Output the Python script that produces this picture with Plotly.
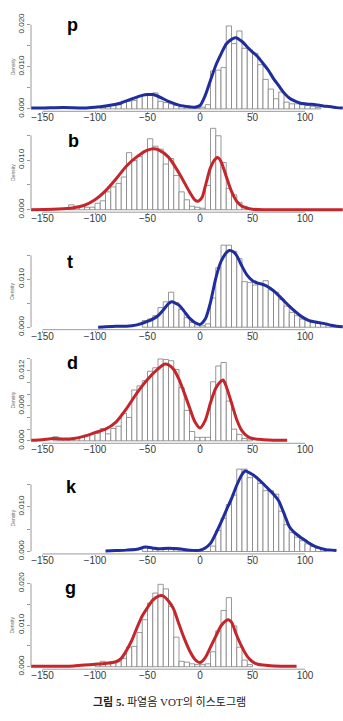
import plotly.graph_objects as go

W, H = 343, 721
BIN = 5
X_TICKS = [-150, -100, -50, 0, 50, 100]

# ---------------- data ----------------
# histograms: left edge of the first bin + densities of consecutive 5-unit bins
p_hist_start = -95
p_hist = [0.0003, 0.0005, 0.0008, 0.0012, 0.0018, 0.0018, 0.002, 0.003, 0.0033, 0.0035,
          0.0038, 0.0018, 0.0015, 0.0012, 0.0008, 0.0005, 0.0003, 0.0002, 0.0002, 0.0004,
          0.001, 0.009, 0.0092, 0.0098, 0.0197, 0.0155, 0.0185, 0.0144, 0.014, 0.0132,
          0.0105, 0.007, 0.0047, 0.0024, 0.004, 0.0016, 0.0012, 0.0012, 0.001, 0.0008,
          0.0006, 0.0003]
p_curve_x = [-161, -150, -130, -110, -100, -90, -80, -75, -70, -60, -55, -50, -45, -40, -35, -30,
             -20, -10, -5, 0, 5, 10, 15, 20, 25, 30, 34, 40, 45, 50, 55, 60, 65, 70, 75, 80, 85,
             90, 95, 100, 105, 110, 115, 120, 125, 130, 136]
p_curve_y = [0.0002, 0.0002, 0.0003, 0.0002, 0.0004, 0.0007, 0.0011, 0.0014, 0.0019, 0.0028,
             0.0032, 0.0034, 0.0034, 0.003, 0.0024, 0.0018, 0.0009, 0.0005, 0.0004, 0.0008,
             0.0032, 0.0068, 0.0103, 0.013, 0.0154, 0.0165, 0.0169, 0.016, 0.0147, 0.0135,
             0.0124, 0.0108, 0.0092, 0.0072, 0.0055, 0.0038, 0.0026, 0.0019, 0.0014, 0.0012,
             0.0011, 0.001, 0.0008, 0.0006, 0.0005, 0.0003, 0.0002]

b_hist_start = -125
b_hist = [0.001, 0.0007, 0.0007, 0.0005, 0.0005, 0.0013, 0.0018, 0.0036, 0.0046, 0.0053,
          0.0066, 0.0115, 0.0099, 0.0107, 0.0118, 0.0143, 0.0128, 0.0122, 0.0092, 0.0103,
          0.0069, 0.0036, 0.002, 0.0007, 0.0005, 0.0003, 0.0049, 0.0164, 0.0149, 0.0095,
          0.0043, 0.003, 0.0015, 0.0007]
b_curve_x = [-161, -140, -130, -120, -110, -100, -90, -80, -70, -60, -50, -44, -40, -30, -20,
             -10, -5, -2, 2, 5, 10, 15, 17, 20, 25, 30, 35, 40, 45, 50, 60, 80, 100, 120, 136]
b_curve_y = [0.0, 0.0001, 0.0002, 0.0004, 0.0009, 0.002, 0.0038, 0.0062, 0.0088, 0.0107,
             0.012, 0.0123, 0.0121, 0.0106, 0.0074, 0.0036, 0.002, 0.0017, 0.0025, 0.0047,
             0.0085, 0.0103, 0.0105, 0.0097, 0.0067, 0.0037, 0.0017, 0.0007, 0.0003, 0.0001,
             0.0, 0.0, 0.0, 0.0, 0.0]

t_hist_start = -55
t_hist = [0.0014, 0.0017, 0.0024, 0.0041, 0.0053, 0.0073, 0.0051, 0.0037, 0.002, 0.001,
          0.0005, 0.0003, 0.0007, 0.0061, 0.0124, 0.0171, 0.0171, 0.0158, 0.0143, 0.0095,
          0.0093, 0.0088, 0.009, 0.0097, 0.0078, 0.0073, 0.0058, 0.0044, 0.0031, 0.0024,
          0.0017, 0.0014, 0.001, 0.0008, 0.0007, 0.0005, 0.0003]
t_curve_x = [-97, -90, -80, -70, -60, -50, -40, -35, -30, -27, -20, -15, -10, -5, 0, 5, 10, 15,
             20, 25, 28, 32, 35, 40, 45, 50, 55, 60, 65, 70, 75, 80, 85, 90, 95, 100, 105, 110,
             115, 120, 125, 130, 136]
t_curve_y = [0.0, 0.0001, 0.0002, 0.0002, 0.0005, 0.0012, 0.0024, 0.0036, 0.0049, 0.0053,
             0.0046, 0.0033, 0.0019, 0.001, 0.0006, 0.0017, 0.0052, 0.0102, 0.0137, 0.0155,
             0.016, 0.0157, 0.0149, 0.0127, 0.0108, 0.0097, 0.0092, 0.0089, 0.0084, 0.0076,
             0.0066, 0.0055, 0.0044, 0.0034, 0.0025, 0.0018, 0.0013, 0.0011, 0.0009, 0.0007,
             0.0004, 0.0002, 0.0001]

d_hist_start = -140
d_hist = [0.0007, 0.0002, 0.0002, 0.0003, 0.0004, 0.0007, 0.001, 0.0012, 0.0013, 0.0021,
          0.0012, 0.0021, 0.0025, 0.0047, 0.004, 0.0087, 0.0094, 0.0103, 0.0119, 0.0125,
          0.014, 0.0139, 0.0137, 0.0122, 0.0091, 0.0052, 0.0016, 0.0006, 0.0006, 0.0006,
          0.0101, 0.0128, 0.0134, 0.0068, 0.002, 0.0011, 0.0004, 0.0003]
d_curve_x = [-161, -150, -140, -130, -120, -110, -100, -90, -80, -70, -60, -50, -40, -34, -30,
             -25, -20, -15, -10, -5, 0, 5, 10, 15, 20, 22, 25, 30, 35, 40, 45, 50, 60, 70, 83]
d_curve_y = [0.0001, 0.0002, 0.0004, 0.0003, 0.0004, 0.0008, 0.0014, 0.002, 0.0032, 0.0055,
             0.0082, 0.0105, 0.0123, 0.0131, 0.013, 0.0122, 0.0105, 0.0082, 0.0057, 0.0033,
             0.0022, 0.0035, 0.0065, 0.009, 0.0102, 0.0104, 0.0093, 0.0065, 0.0036, 0.0017,
             0.0008, 0.0004, 0.0002, 0.0001, 0.0001]

k_hist_start = -55
k_hist = [0.0009, 0.0007, 0.0005, 0.0005, 0.0006, 0.0006, 0.0004, 0.0004, 0.0002, 0.0,
          0.0, 0.0, 0.0, 0.0012, 0.0047, 0.0074, 0.0105, 0.0126, 0.0184, 0.0184,
          0.0165, 0.0167, 0.0152, 0.0136, 0.0136, 0.0128, 0.009, 0.006, 0.0042, 0.0032,
          0.0024, 0.0017, 0.0011, 0.0007, 0.0005]
k_curve_x = [-90, -80, -70, -60, -52, -45, -40, -30, -20, -10, 0, 5, 10, 15, 20, 25, 30, 35, 40,
             43, 50, 55, 60, 65, 70, 75, 80, 85, 90, 95, 100, 105, 110, 115, 120, 125, 130]
k_curve_y = [0.0001, 0.0002, 0.0003, 0.0005, 0.001, 0.0008, 0.0006, 0.0007, 0.0006, 0.0003,
             0.0003, 0.0008, 0.0018, 0.004, 0.0065, 0.0092, 0.0118, 0.0148, 0.0172, 0.018,
             0.0172, 0.0163, 0.0152, 0.014, 0.0128, 0.0113, 0.0085, 0.0056, 0.0042, 0.0033,
             0.0025, 0.0017, 0.0011, 0.0007, 0.0004, 0.0003, 0.0002]

g_hist_start = -100
g_hist = [0.0005, 0.0013, 0.001, 0.001, 0.0012, 0.002, 0.0047, 0.0049, 0.0082, 0.0113,
          0.0153, 0.0177, 0.0198, 0.0187, 0.0145, 0.0071, 0.0013, 0.0011, 0.0007, 0.0005,
          0.0005, 0.0007, 0.0036, 0.0086, 0.0135, 0.0166, 0.0098, 0.0047, 0.0016, 0.0005]
g_curve_x = [-161, -150, -130, -120, -110, -100, -90, -80, -75, -70, -65, -60, -55, -50, -45,
             -40, -37, -35, -30, -25, -20, -15, -10, -5, 0, 5, 10, 15, 20, 25, 27, 30, 35, 40,
             45, 50, 55, 60, 70, 92]
g_curve_y = [0.0001, 0.0001, 0.0001, 0.0002, 0.0004, 0.0006, 0.0008, 0.0012, 0.002, 0.0039,
             0.0063, 0.0094, 0.0122, 0.0142, 0.016, 0.0169, 0.0171, 0.017, 0.0158, 0.0138,
             0.0102, 0.0068, 0.0039, 0.0018, 0.001, 0.0022, 0.0047, 0.0073, 0.0098, 0.0111,
             0.0113, 0.0107, 0.0075, 0.0047, 0.0025, 0.0012, 0.0006, 0.0004, 0.0002, 0.0001]

# ---------------- styling / geometry ----------------
BLUE = "#1f2e9c"
RED = "#c3262b"
BAR_EDGE = "#7d7d7d"
AXIS_COL = "#9a9a9a"
LABEL_COL = "#3a3a3a"

X_ZERO_PX, X_PX_PER_UNIT = 200.0, 1.05
PLOT_LEFT_PX, PLOT_RIGHT_PX = 31.0, 343.0

ticks_a = [0, 0.005, 0.010, 0.015, 0.020]
text_a = ["0.000", "", "0.010", "", "0.020"]
ticks_b = [0, 0.005, 0.010, 0.015]
text_b = ["0.000", "", "0.010", ""]
ticks_d = [0, 0.002, 0.004, 0.006, 0.008, 0.010, 0.012, 0.014]
text_d = ["0.000", "", "", "0.006", "", "", "0.012", ""]

panels = [
    dict(letter="p", hs=p_hist_start, h=p_hist, cx=p_curve_x, cy=p_curve_y, col=BLUE,
         y0=102.0, s=43.0, yt=ticks_a, ytt=text_a, lx=72, ly=16),
    dict(letter="b", hs=b_hist_start, h=b_hist, cx=b_curve_x, cy=b_curve_y, col=RED,
         y0=205.0, s=50.7, yt=ticks_b, ytt=text_b, lx=73, ly=135),
    dict(letter="t", hs=t_hist_start, h=t_hist, cx=t_curve_x, cy=t_curve_y, col=BLUE,
         y0=325.0, s=49.0, yt=ticks_b, ytt=text_b, lx=70, ly=258),
    dict(letter="d", hs=d_hist_start, h=d_hist, cx=d_curve_x, cy=d_curve_y, col=RED,
         y0=441.0, s=59.7, yt=ticks_d, ytt=text_d, lx=72, ly=362),
    dict(letter="k", hs=k_hist_start, h=k_hist, cx=k_curve_x, cy=k_curve_y, col=BLUE,
         y0=554.0, s=45.7, yt=ticks_b, ytt=text_b, lx=71, ly=488),
    dict(letter="g", hs=g_hist_start, h=g_hist, cx=g_curve_x, cy=g_curve_y, col=RED,
         y0=671.7, s=42.5, yt=ticks_a, ytt=text_a, lx=70, ly=591),
]

fig = go.Figure()
shapes, annotations = [], []
layout = dict(width=W, height=H, margin=dict(l=0, r=0, t=0, b=0),
              paper_bgcolor="white", plot_bgcolor="white", showlegend=False)

x_lo = (PLOT_LEFT_PX - X_ZERO_PX) / X_PX_PER_UNIT
x_hi = (PLOT_RIGHT_PX - X_ZERO_PX) / X_PX_PER_UNIT


def xpx(v):
    return X_ZERO_PX + X_PX_PER_UNIT * v


for i, pn in enumerate(panels, start=1):
    xa = "x" if i == 1 else f"x{i}"
    ya = "y" if i == 1 else f"y{i}"
    per_unit = pn["s"] * 100.0  # px per density unit
    y0 = pn["y0"]
    top_tick_px = y0 - max(pn["yt"]) * per_unit
    max_px = y0 - max(max(pn["h"]), max(pn["cy"])) * per_unit
    bottom_px = y0 + 2.5
    top_px = min(top_tick_px, max_px) - 3
    y_lo = (y0 - bottom_px) / per_unit
    y_hi = (y0 - top_px) / per_unit

    centers = [pn["hs"] + BIN * j + BIN / 2 for j in range(len(pn["h"]))]
    fig.add_trace(go.Bar(x=centers, y=pn["h"], width=BIN, xaxis=xa, yaxis=ya,
                         marker=dict(color="white", line=dict(color=BAR_EDGE, width=0.8)),
                         hoverinfo="skip"))
    fig.add_trace(go.Scatter(x=pn["cx"], y=pn["cy"], mode="lines", xaxis=xa, yaxis=ya,
                             line=dict(color=pn["col"], width=3, shape="spline", smoothing=0.7),
                             hoverinfo="skip"))

    xkey = "xaxis" if i == 1 else f"xaxis{i}"
    ykey = "yaxis" if i == 1 else f"yaxis{i}"
    layout[xkey] = dict(domain=[PLOT_LEFT_PX / W, PLOT_RIGHT_PX / W], range=[x_lo, x_hi],
                        anchor=ya, showgrid=False, zeroline=False, showline=False,
                        tickmode="array", tickvals=X_TICKS, ticks="outside", ticklen=2,
                        tickcolor=AXIS_COL, tickwidth=1, ticklabelstandoff=-5,
                        tickfont=dict(family="Liberation Sans, Arial", size=10, color=LABEL_COL))
    layout[ykey] = dict(domain=[1 - bottom_px / H, 1 - top_px / H], range=[y_lo, y_hi],
                        anchor=xa, showgrid=False, zeroline=False, showline=False,
                        tickmode="array", tickvals=pn["yt"], ticktext=pn["ytt"],
                        ticks="outside", ticklen=3, tickcolor=AXIS_COL, tickwidth=1,
                        tickangle=-90,
                        tickfont=dict(family="Liberation Sans, Arial", size=8, color=LABEL_COL))

    # axis lines spanning first..last tick (R style)
    shapes.append(dict(type="line", xref="paper", yref="paper",
                       x0=xpx(min(X_TICKS)) / W, x1=xpx(max(X_TICKS)) / W,
                       y0=1 - bottom_px / H, y1=1 - bottom_px / H,
                       line=dict(color=AXIS_COL, width=1)))
    shapes.append(dict(type="line", xref="paper", yref="paper",
                       x0=PLOT_LEFT_PX / W, x1=PLOT_LEFT_PX / W,
                       y0=1 - (y0 - min(pn["yt"]) * per_unit) / H, y1=1 - top_tick_px / H,
                       line=dict(color=AXIS_COL, width=1)))

    annotations.append(dict(text=f"<b>{pn['letter']}</b>", xref="paper", yref="paper",
                            x=pn["lx"] / W, y=1 - pn["ly"] / H, xanchor="center",
                            yanchor="middle", showarrow=False,
                            font=dict(family="Liberation Sans, Arial", size=18, color="black")))
    annotations.append(dict(text="Density", xref="paper", yref="paper",
                            x=12.5 / W, y=1 - ((y0 + top_tick_px) / 2) / H, xanchor="center",
                            yanchor="middle", showarrow=False, textangle=-90,
                            font=dict(family="Liberation Sans, Arial", size=5, color="#666")))

annotations.append(dict(text="<b>그림 5.</b> 파열음 VOT의 히스토그램", xref="paper", yref="paper",
                        x=169 / W, y=1 - 707 / H, xanchor="center", yanchor="middle",
                        showarrow=False,
                        font=dict(family="Liberation Serif, Noto Sans CJK KR", size=11,
                                  color="#222")))

layout["shapes"] = shapes
layout["annotations"] = annotations
fig.update_layout(**layout)
fig.write_html("out.html")
